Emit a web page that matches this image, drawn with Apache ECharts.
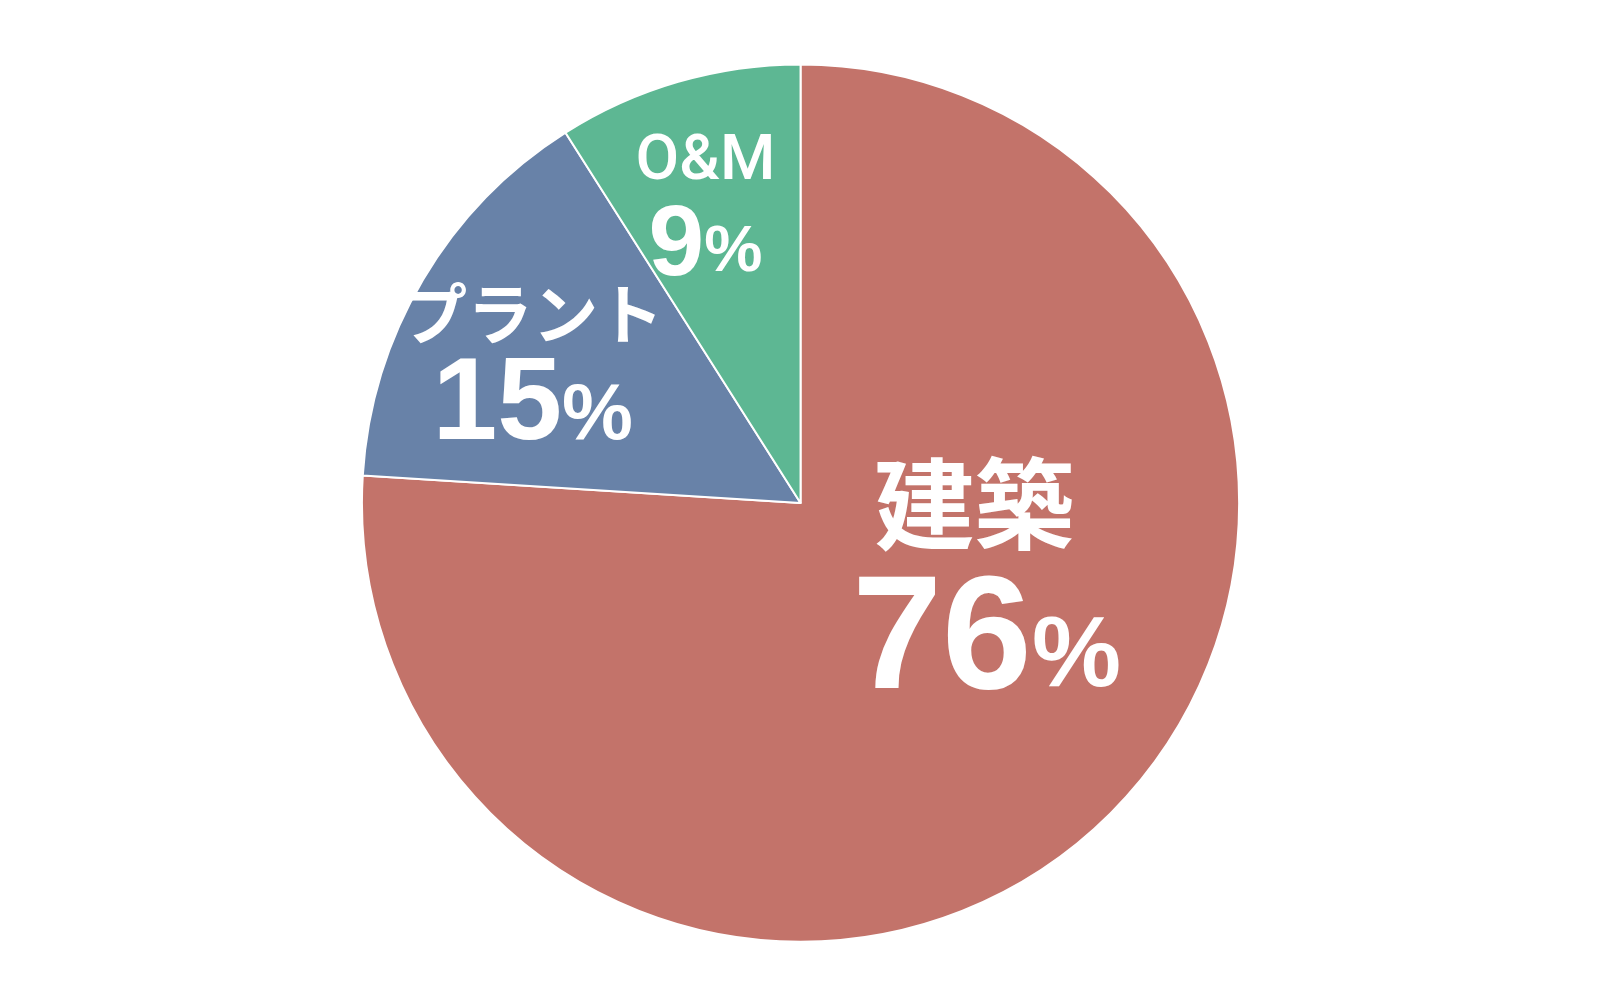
<!DOCTYPE html>
<html><head><meta charset="utf-8">
<style>html,body{margin:0;padding:0;background:#fff;overflow:hidden}#c{width:1601px;height:1006px}</style>
<script src="https://cdn.jsdelivr.net/npm/echarts@6/dist/echarts.min.js"></script>
</head><body><div id="c"></div>
<script>
const categories = ['建築', 'プラント', 'O&M'];
const values = [76, 15, 9];
const colors = ['#C3736A', '#6882A8', '#5DB793'];
const nameSizes = [98, 64, 62];
const numSizes = [158, 114, 98];
const pctSizes = [98, 78, 64];
const pctRaise = [12, 5, 9];
const labelPos = [[965, 568], [521, 361], [690, 206]];

const K = 1.0224;
const chart = echarts.init(document.getElementById('c'));
const data = categories.map((n, i) => {
  const numLH = numSizes[i] * 0.95 * K;
  const r = pctRaise[i] * K;
  return {
    name: n, value: values[i],
    itemStyle: { color: colors[i] },
    label: {
      formatter: '{name|{b}}\n{num|{c}}{pct|%}',
      rich: {
        name: {
          fontSize: nameSizes[i] * K,
          fontFamily: i === 2 ? 'Roboto' : 'Noto Sans CJK JP',
          fontWeight: i === 2 ? 500 : 'bold',
          color: '#fff',
          lineHeight: nameSizes[i] * (i === 0 ? 1.26 : 1.15) * K,
          align: 'center',
          padding: i === 0 ? [0, 24 * K, 0, 0] : 0
        },
        num: { fontSize: numSizes[i] * K, fontFamily: 'Liberation Sans', fontWeight: 'bold', color: '#fff', lineHeight: numLH },
        pct: { fontSize: pctSizes[i] * K, fontFamily: 'Liberation Sans', fontWeight: 'bold', color: '#fff', lineHeight: numLH - r, padding: [0, 0, r, 0], verticalAlign: 'bottom' }
      }
    }
  };
});
chart.setOption({
  animation: false,
  series: [{
    type: 'pie',
    center: [783 * K, 492 * K],
    radius: [0, 429 * K],
    startAngle: 90,
    clockwise: true,
    data: data,
    itemStyle: { borderColor: '#fff', borderWidth: 2 },
    label: { show: true, position: 'inside', align: 'center', verticalAlign: 'middle' },
    labelLine: { show: false },
    labelLayout: function (p) {
      const pos = labelPos[p.dataIndex];
      return { x: pos[0] * K, y: pos[1] * K, align: 'center', verticalAlign: 'middle' };
    },
    emphasis: { disabled: true }
  }]
});
</script></body></html>
